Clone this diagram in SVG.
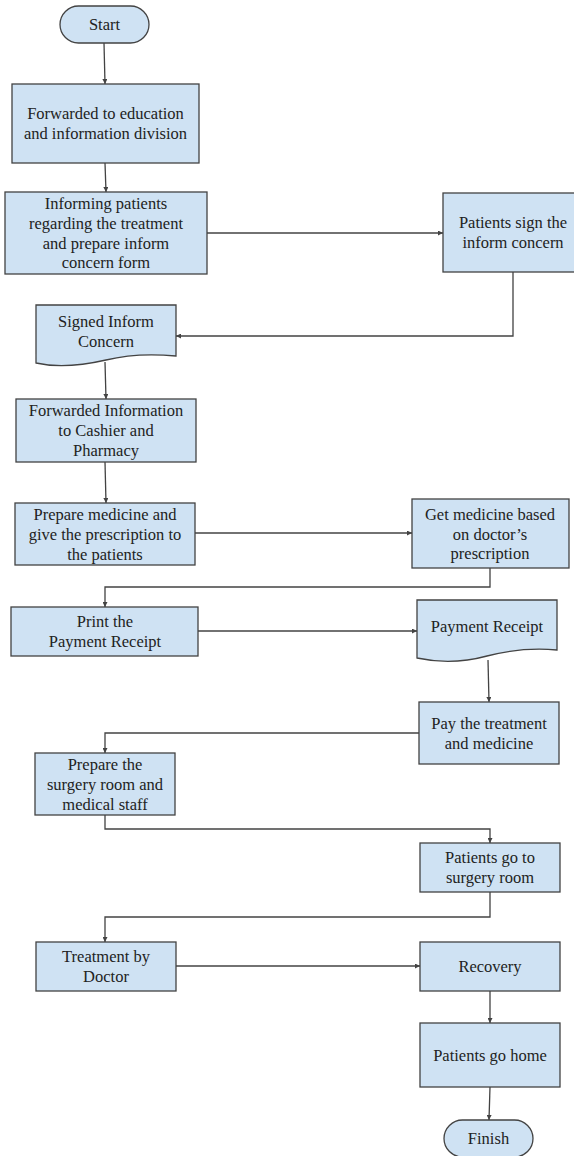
<svg xmlns="http://www.w3.org/2000/svg" width="574" height="1156" viewBox="0 0 574 1156">
  <style>
    .node { fill: #cfe2f3; stroke: #434343; stroke-width: 1.3; }
    .lbl { font-family: "Liberation Serif", "Times New Roman", serif; font-size: 16.5px; fill: #222222; text-anchor: middle; }
    .conn { fill: none; stroke: #434343; stroke-width: 1.3; marker-end: url(#arrow); }
  </style>
  <defs>
    <marker id="arrow" viewBox="0 0 10 10" refX="10" refY="5" markerWidth="5" markerHeight="5" markerUnits="userSpaceOnUse" orient="auto">
      <path d="M0,0 L10,5 L0,10 Z" fill="#434343"/>
    </marker>
  </defs>
  <rect width="574" height="1156" fill="#ffffff"/>

  <!-- connectors -->
  <g id="connectors">
    <path class="conn" d="M104,43 L105,84"/>
    <path class="conn" d="M105,163 L106,192"/>
    <path class="conn" d="M207,233 H443"/>
    <path class="conn" d="M513,272 V336 H176"/>
    <path class="conn" d="M105,362 L106,399"/>
    <path class="conn" d="M105,462 L106,503"/>
    <path class="conn" d="M195,533 H412"/>
    <path class="conn" d="M490,568 V587 H105 V607"/>
    <path class="conn" d="M198,631 H417"/>
    <path class="conn" d="M488,660 L489,702"/>
    <path class="conn" d="M419,733 H105 V753"/>
    <path class="conn" d="M105,815 V829 H490 V843"/>
    <path class="conn" d="M490,892 V917 H105 V942"/>
    <path class="conn" d="M176,966 H420"/>
    <path class="conn" d="M490,991 V1023"/>
    <path class="conn" d="M490,1087 L489,1120"/>
  </g>

  <g id="start">
    <rect class="node" x="60" y="6" width="89" height="37" rx="18.5"/>
    <text class="lbl" x="104.5" y="30">Start</text>
  </g>

  <g id="forwarded-education">
    <rect class="node" x="12" y="84" width="187" height="79"/>
    <text class="lbl" x="105.5" y="119">Forwarded to education</text>
    <text class="lbl" x="105.5" y="139">and information division</text>
  </g>

  <g id="informing-patients">
    <rect class="node" x="5" y="192" width="202" height="82"/>
    <text class="lbl" x="106" y="209">Informing patients</text>
    <text class="lbl" x="106" y="229">regarding the treatment</text>
    <text class="lbl" x="106" y="249">and prepare inform</text>
    <text class="lbl" x="106" y="268">concern form</text>
  </g>

  <g id="patients-sign">
    <rect class="node" x="443" y="193" width="132" height="79"/>
    <text class="lbl" x="513" y="228">Patients sign the</text>
    <text class="lbl" x="513" y="248">inform concern</text>
  </g>

  <g id="signed-inform-concern">
    <path class="node" d="M36,305 H176 V356 C155,354 130,354 106,360 C80,366 58,368 36,363 Z"/>
    <text class="lbl" x="106" y="327">Signed Inform</text>
    <text class="lbl" x="106" y="347">Concern</text>
  </g>

  <g id="forwarded-cashier">
    <rect class="node" x="16" y="399" width="180" height="63"/>
    <text class="lbl" x="106" y="416">Forwarded Information</text>
    <text class="lbl" x="106" y="436">to Cashier and</text>
    <text class="lbl" x="106" y="456">Pharmacy</text>
  </g>

  <g id="prepare-medicine">
    <rect class="node" x="15" y="503" width="180" height="62"/>
    <text class="lbl" x="105" y="520">Prepare medicine and</text>
    <text class="lbl" x="105" y="540">give the prescription to</text>
    <text class="lbl" x="105" y="560">the patients</text>
  </g>

  <g id="get-medicine">
    <rect class="node" x="412" y="499" width="157" height="69"/>
    <text class="lbl" x="490" y="520">Get medicine based</text>
    <text class="lbl" x="490" y="540">on doctor’s</text>
    <text class="lbl" x="490" y="559">prescription</text>
  </g>

  <g id="print-receipt">
    <rect class="node" x="11" y="607" width="187" height="49"/>
    <text class="lbl" x="105" y="627">Print the</text>
    <text class="lbl" x="105" y="647">Payment Receipt</text>
  </g>

  <g id="payment-receipt">
    <path class="node" d="M417,600 H557 V650 C535,648 510,650 487,656 C465,662 440,663 417,658 Z"/>
    <text class="lbl" x="487" y="632">Payment Receipt</text>
  </g>

  <g id="pay-treatment">
    <rect class="node" x="419" y="702" width="140" height="62"/>
    <text class="lbl" x="489" y="729">Pay the treatment</text>
    <text class="lbl" x="489" y="749">and medicine</text>
  </g>

  <g id="prepare-surgery">
    <rect class="node" x="35" y="753" width="140" height="62"/>
    <text class="lbl" x="105" y="770">Prepare the</text>
    <text class="lbl" x="105" y="790">surgery room and</text>
    <text class="lbl" x="105" y="810">medical staff</text>
  </g>

  <g id="go-surgery">
    <rect class="node" x="420" y="843" width="140" height="49"/>
    <text class="lbl" x="490" y="863">Patients go to</text>
    <text class="lbl" x="490" y="883">surgery room</text>
  </g>

  <g id="treatment-doctor">
    <rect class="node" x="36" y="942" width="140" height="49"/>
    <text class="lbl" x="106" y="962">Treatment by</text>
    <text class="lbl" x="106" y="982">Doctor</text>
  </g>

  <g id="recovery">
    <rect class="node" x="420" y="942" width="140" height="49"/>
    <text class="lbl" x="490" y="972">Recovery</text>
  </g>

  <g id="go-home">
    <rect class="node" x="420" y="1023" width="140" height="64"/>
    <text class="lbl" x="490" y="1061">Patients go home</text>
  </g>

  <g id="finish">
    <rect class="node" x="444" y="1120" width="89" height="37" rx="18.5"/>
    <text class="lbl" x="488.5" y="1144">Finish</text>
  </g>
</svg>
